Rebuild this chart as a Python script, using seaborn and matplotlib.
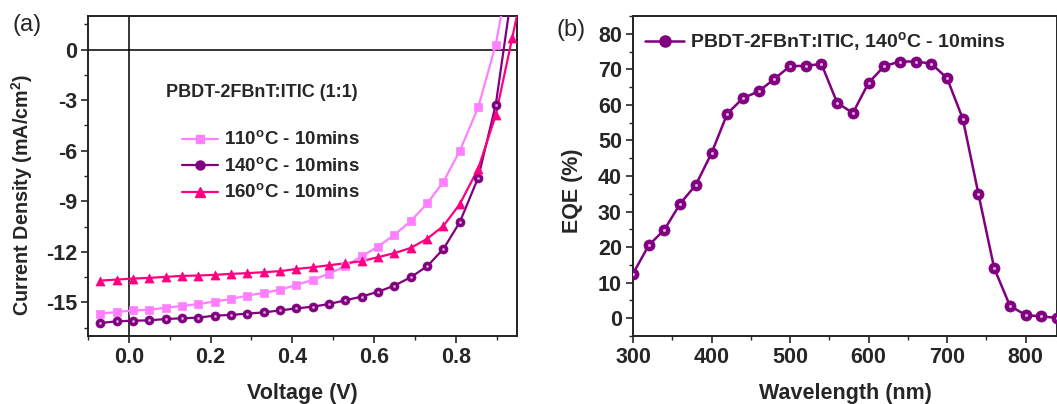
import numpy as np
import pandas as pd
import matplotlib
matplotlib.use("Agg")
import matplotlib.pyplot as plt
import seaborn as sns
from matplotlib.ticker import MultipleLocator

# J-V curves (panel a)
voltage = [-0.07, -0.03, 0.01, 0.05, 0.09, 0.13, 0.17, 0.21, 0.25, 0.29, 0.33, 0.37,
           0.41, 0.45, 0.49, 0.53, 0.57, 0.61, 0.65, 0.69, 0.73, 0.77, 0.81, 0.855, 0.898]
j_110 = [-15.67, -15.58, -15.48, -15.44, -15.32, -15.22, -15.10, -14.96, -14.80, -14.60,
         -14.44, -14.25, -13.97, -13.67, -13.29, -12.86, -12.26, -11.69, -10.99, -10.18,
         -9.13, -7.84, -6.01, -3.43, 0.30]
j_140 = [-16.23, -16.13, -16.09, -16.07, -15.99, -15.95, -15.91, -15.79, -15.75, -15.67,
         -15.60, -15.48, -15.36, -15.26, -15.10, -14.88, -14.66, -14.37, -14.01, -13.51,
         -12.86, -11.83, -10.24, -7.60, -3.27]
j_160 = [-13.71, -13.65, -13.59, -13.55, -13.49, -13.43, -13.41, -13.37, -13.31, -13.27,
         -13.21, -13.15, -13.02, -12.92, -12.80, -12.68, -12.56, -12.32, -12.08, -11.77,
         -11.23, -10.46, -9.17, -7.06, -3.89]
# last points past the visible top (line only)
tail_v = {"110": [0.93], "140": [0.935], "160": [0.938, 0.955]}
tail_j = {"110": [4.5], "140": [3.0], "160": [0.67, 2.6]}

# EQE (panel b)
wavelength = [300, 320, 340, 360, 380, 400, 420, 440, 460, 480, 500, 520, 540, 560,
              580, 600, 620, 640, 660, 680, 700, 720, 740, 760, 780, 800, 820, 840]
eqe = [12.5, 20.5, 24.9, 32.2, 37.5, 46.4, 57.5, 61.9, 63.8, 67.3, 70.9, 71.0, 71.5,
       60.6, 57.7, 66.2, 70.9, 72.2, 72.2, 71.6, 67.5, 56.1, 34.9, 14.1, 3.5, 0.9, 0.5, 0.1]

sns.set_style("ticks")
plt.rcParams['font.family'] = ['Liberation Sans', 'DejaVu Sans']
plt.rcParams['mathtext.fontset'] = 'custom'
plt.rcParams['mathtext.rm'] = 'Liberation Sans'
plt.rcParams['mathtext.bf'] = 'Liberation Sans:bold'
plt.rcParams['axes.unicode_minus'] = False

fig = plt.figure(figsize=(10.57, 4.04), dpi=100)
ax1 = fig.add_axes([88 / 1057, 68 / 404, 429 / 1057, 320 / 404])
ax2 = fig.add_axes([633 / 1057, 68 / 404, 424 / 1057, 320 / 404])

pink, purple, hot = "#FF80FF", "#800080", "#FF0080"
shine = "#D8A8D8"
series = [("110", j_110, pink, "s", 5.5),
          ("140", j_140, purple, "o", 6.5),
          ("160", j_160, hot, "^", 6.5)]

ax1.axhline(0, color="black", lw=1.1, zorder=1)
ax1.axvline(0, color="black", lw=1.1, zorder=1)
handles = []
for name, vals, col, mk, ms in series:
    xs = voltage + tail_v[name]
    ys = vals + tail_j[name]
    sns.lineplot(x=xs, y=ys, ax=ax1, color=col, lw=1.6, sort=False, zorder=3)
    mx = voltage + (tail_v[name][:1] if name == "160" else [])
    my = vals + (tail_j[name][:1] if name == "160" else [])
    sns.scatterplot(x=mx, y=my, ax=ax1, color=col, marker=mk, s=ms ** 2,
                    edgecolor=col, linewidth=0.5, zorder=4)
    if mk == "o":
        # glossy highlight on the ball markers
        sns.scatterplot(x=mx, y=my, ax=ax1, color=shine, marker="o", s=4,
                        linewidth=0, zorder=5)
    h, = ax1.plot([], [], color=col, lw=1.6, marker=mk, ms=ms,
                  label=name + r"$^{\mathbf{o}}$C - 10mins")
    handles.append(h)

ax1.set_xlim(-0.1, 0.95)
ax1.set_ylim(-17, 2)
ax1.xaxis.set_minor_locator(MultipleLocator(0.1))
ax1.yaxis.set_major_locator(MultipleLocator(3))
ax1.yaxis.set_minor_locator(MultipleLocator(1.5))
ax1.set_xticks([0.0, 0.2, 0.4, 0.6, 0.8])
ax1.set_xticklabels(["0.0", "0.2", "0.4", "0.6", "0.8"])
ax1.set_xlabel("Voltage (V)", fontsize=15.5, fontweight="bold", labelpad=11)
ax1.set_ylabel(r"Current Density (mA/cm$^{\mathbf{2}}$)", fontsize=14.2,
               fontweight="bold")
ax1.yaxis.set_label_coords(-0.124, 0.44)
ax1.text(0.091, -2.52, "PBDT-2FBnT:ITIC (1:1)", fontsize=13, fontweight="bold",
         va="center", ha="left")
ax1.legend(handles=handles, loc="upper left", bbox_to_anchor=(0.18, 0.695),
           frameon=False, handlelength=1.9, handletextpad=0.35,
           labelspacing=0.42, prop={"weight": "bold", "size": 13.5})

sns.lineplot(x=wavelength, y=eqe, ax=ax2, color=purple, lw=1.8, zorder=3)
sns.scatterplot(x=wavelength, y=eqe, ax=ax2, color=purple, marker="o", s=64,
                edgecolor=purple, linewidth=0.5, zorder=4)
sns.scatterplot(x=wavelength, y=eqe, ax=ax2, color=shine, marker="o", s=5,
                linewidth=0, zorder=5)
h2, = ax2.plot([], [], color=purple, lw=1.8, marker="o", ms=8,
               label=r"PBDT-2FBnT:ITIC, 140$^{\mathbf{o}}$C - 10mins")
ax2.set_xlim(300, 840)
ax2.set_ylim(-5, 85)
ax2.xaxis.set_major_locator(MultipleLocator(100))
ax2.xaxis.set_minor_locator(MultipleLocator(50))
ax2.yaxis.set_major_locator(MultipleLocator(10))
ax2.yaxis.set_minor_locator(MultipleLocator(5))
ax2.set_xlabel("Wavelength (nm)", fontsize=15.5, fontweight="bold", labelpad=11)
ax2.set_ylabel("EQE (%)", fontsize=15.5, fontweight="bold")
ax2.yaxis.set_label_coords(-0.118, 0.453)
ax2.legend(handles=[h2], loc="upper left", bbox_to_anchor=(-0.012, 1.01),
           frameon=False, handlelength=2.0, handletextpad=0.3,
           prop={"weight": "bold", "size": 14})

for ax in (ax1, ax2):
    for sp in ax.spines.values():
        sp.set_visible(True)
        sp.set_linewidth(1.4)
        sp.set_color("#222222")
    ax.tick_params(which="major", direction="out", length=5, width=1.2,
                   labelsize=15.5, top=False, right=False, pad=3)
    ax.tick_params(which="minor", direction="out", length=3, width=1.0,
                   top=False, right=False)
    for lab in ax.get_xticklabels() + ax.get_yticklabels():
        lab.set_fontweight("bold")

fig.text(12 / 1057, 1 - 25 / 404, "(a)", fontsize=17, va="center", ha="left")
fig.text(557 / 1057, 1 - 30 / 404, "(b)", fontsize=17, va="center", ha="left")

fig.savefig("out.png", dpi=100)
